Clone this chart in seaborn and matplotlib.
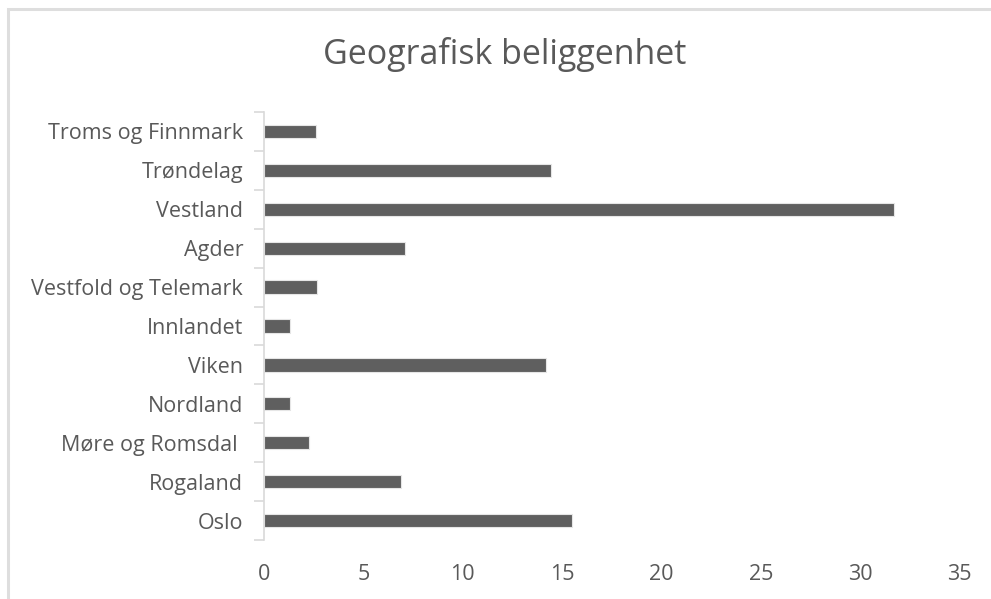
import seaborn as sns
import matplotlib.pyplot as plt
import pandas as pd
from matplotlib.patches import Rectangle

# --- Data (percent share per region) ---
regions = ['Troms og Finnmark', 'Trøndelag', 'Vestland', 'Agder',
           'Vestfold og Telemark', 'Innlandet', 'Viken', 'Nordland',
           'Møre og Romsdal ', 'Rogaland', 'Oslo']
shares = [2.6, 14.45, 31.7, 7.1, 2.65, 1.3, 14.2, 1.3, 2.25, 6.9, 15.5]
x_ticks = [0, 5, 10, 15, 20, 25, 30, 35]

TEXT_GREY = '#595959'
AXIS_GREY = '#d9d9d9'
BAR_GREY = '#5f5f5f'

sns.set_theme(style="white")
plt.rcParams['font.family'] = ['Open Sans', 'DejaVu Sans']

df = pd.DataFrame({'region': regions, 'share': shares})

fig = plt.figure(figsize=(9.91, 5.99), dpi=100)
ax = fig.add_axes([264 / 991, 1 - 540 / 599, (959.5 - 264) / 991, (540 - 112) / 599])

sns.barplot(data=df, x='share', y='region', order=regions, orient='h',
            color=BAR_GREY, saturation=1, width=0.34,
            edgecolor='#e6e6e6', linewidth=0.8, ax=ax)

ax.set_xlim(0, 35)
ax.set_ylim(len(regions) - 0.5, -0.5)
ax.set_xticks(x_ticks)
ax.set_xticklabels([str(t) for t in x_ticks], fontsize=15.5, color=TEXT_GREY)
ax.set_yticklabels(regions, fontsize=15.5, color=TEXT_GREY)
ax.set_xlabel('')
ax.set_ylabel('')

# category-boundary tick marks on the left axis, like the source
ax.set_yticks([i - 0.5 for i in range(len(regions) + 1)], minor=True)
ax.tick_params(axis='y', which='major', left=False, length=0, pad=15)
ax.tick_params(axis='y', which='minor', left=True, length=7, width=1.2,
               color=AXIS_GREY, direction='out')
ax.tick_params(axis='x', bottom=False, length=0, pad=17)

for side in ['top', 'right', 'bottom']:
    ax.spines[side].set_visible(False)
ax.spines['left'].set_color(AXIS_GREY)
ax.spines['left'].set_linewidth(1.2)

fig.text(505 / 991, 1 - 55 / 599, 'Geografisk beliggenhet', ha='center', va='center',
         fontsize=24.5, color=TEXT_GREY)

# outer chart frame, cropped at right and bottom
fig.patches.append(Rectangle((8 / 991, -0.1), 1.1, 1.1 - 9.5 / 599,
                             transform=fig.transFigure, fill=False,
                             edgecolor='#dedede', linewidth=2.2))

plt.savefig('out.png', dpi=100)
plt.close()
